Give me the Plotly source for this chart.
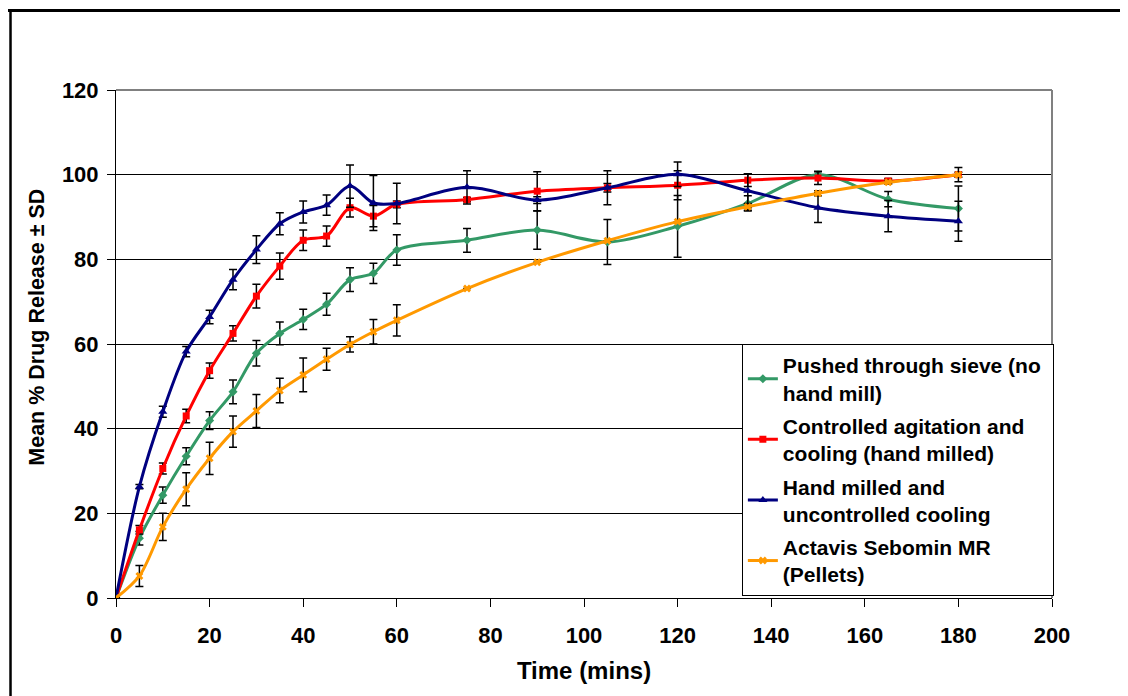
import plotly.graph_objects as go

# ---- data ----
time = [0, 5, 10, 15, 20, 25, 30, 35, 40, 45, 50, 55, 60, 75, 90, 105, 120, 135, 150, 165, 180]

sieve = [0, 14.1, 24.3, 33.5, 41.9, 48.7, 57.8, 62.5, 65.8, 69.4, 75.2, 76.7, 82.2, 84.5, 86.9, 84.1, 87.8, 93.2, 100.0, 94.2, 92.0]
sieve_sd = [0, 1.6, 1.9, 2.0, 2.1, 2.8, 3.0, 2.7, 2.4, 2.6, 2.8, 2.4, 3.6, 2.8, 4.5, 5.3, 7.3, 1.8, 0.8, 1.8, 5.3]

controlled = [0, 16.1, 30.6, 43.0, 53.7, 62.5, 71.3, 78.4, 84.5, 85.5, 92.2, 90.2, 93.0, 94.1, 96.1, 96.9, 97.5, 98.7, 99.2, 98.5, 100.0]
controlled_sd = [0, 1.0, 1.3, 1.6, 1.8, 1.8, 2.8, 3.1, 2.4, 2.4, 2.2, 2.5, 0.8, 0.5, 4.6, 1.0, 3.4, 1.5, 1.5, 0.6, 0.6]

handmilled = [0, 26.3, 44.0, 58.2, 66.4, 75.2, 82.3, 88.4, 91.2, 92.8, 97.3, 93.3, 93.2, 97.0, 94.0, 96.9, 100.1, 96.2, 92.2, 90.2, 89.0]
handmilled_sd = [0, 0.5, 1.3, 1.2, 1.6, 2.4, 3.3, 2.6, 2.6, 2.4, 5.0, 6.5, 4.8, 3.9, 0.8, 4.0, 2.9, 4.0, 3.5, 3.7, 4.7]

actavis = [0, 5.2, 16.8, 25.7, 33.0, 39.3, 44.2, 49.0, 52.7, 56.4, 59.9, 62.9, 65.6, 73.1, 79.3, 84.4, 88.9, 92.4, 95.6, 98.2, 100.0]
actavis_sd = [0, 2.5, 3.2, 3.9, 3.8, 3.7, 3.9, 2.9, 4.0, 2.6, 1.8, 2.9, 3.7, 0, 0, 0, 0, 0.8, 0.6, 0.4, 1.7]

NB = "\u00a0"
names = [
    "Pushed through sieve (no<br>hand mill)",
    "Controlled agitation and" + NB * 4 + "<br>cooling (hand milled)",
    "Hand milled and<br>uncontrolled cooling",
    "Actavis Sebomin MR<br>(Pellets)",
]
x_ticks = [0, 20, 40, 60, 80, 100, 120, 140, 160, 180, 200]
y_ticks = [0, 20, 40, 60, 80, 100, 120]
x_title = "Time (mins)"
y_title = "Mean % Drug Release ± SD"

FONT = "Arial, Liberation Sans, sans-serif"

series = [
    (sieve, sieve_sd, "#339966", "diamond", 7),
    (controlled, controlled_sd, "#FF0000", "square", 7),
    (handmilled, handmilled_sd, "#000080", "triangle-up", 8),
    (actavis, actavis_sd, "#FF9900", "x", 7),
]

fig = go.Figure()
for i, (vals, sd, color, sym, size) in enumerate(series):
    fig.add_trace(go.Scatter(
        x=time, y=vals, name=names[i], mode="lines+markers",
        legendgroup=f"g{i}",
        line=dict(color=color, width=3, shape="spline", smoothing=0.9),
        marker=dict(color=color, symbol=sym, size=size),
        error_y=dict(type="data", array=sd, visible=True, color="black",
                     thickness=1.5, width=4),
    ))

# The page body has an 8px margin; figure is sized so it ends at the window edge.
fig.update_layout(
    width=1120, height=688,
    margin=dict(l=108, r=76, t=82, b=98),
    paper_bgcolor="white", plot_bgcolor="white",
    font=dict(family=FONT, color="black", size=20, weight="bold"),
    showlegend=True,
    legend=dict(
        x=1.002, xanchor="right", y=0.004, yanchor="bottom",
        bgcolor="white", bordercolor="black", borderwidth=1,
        font=dict(family=FONT, size=21, color="black", weight="bold"),
        tracegroupgap=3, itemwidth=30,
    ),
    xaxis=dict(
        range=[0, 200], tickvals=x_ticks, ticktext=[str(v) for v in x_ticks],
        showgrid=False, zeroline=False, showline=True, linecolor="black", linewidth=1,
        ticks="outside", ticklen=8, tickcolor="black",
        tickfont=dict(family=FONT, size=22, color="black", weight="bold"),
        ticklabelstandoff=10,
        title=dict(text=x_title, standoff=14,
                   font=dict(family=FONT, size=24, color="black", weight="bold")),
    ),
    yaxis=dict(
        range=[0, 120], tickvals=y_ticks, ticktext=[str(v) for v in y_ticks],
        showgrid=True, gridcolor="black", gridwidth=1,
        zeroline=False, showline=True, linecolor="black", linewidth=1,
        ticks="outside", ticklen=8, tickcolor="black",
        tickfont=dict(family=FONT, size=22, color="black", weight="bold"),
        ticklabelstandoff=4,
    ),
    annotations=[
        dict(text=y_title, textangle=-90, xref="paper", yref="paper",
             x=-0.0839, y=0.533, xanchor="center", yanchor="middle", showarrow=False,
             font=dict(family=FONT, size=21.5, color="black", weight="bold")),
    ],
    shapes=[
        # gray plot-area border (top and right)
        dict(type="line", xref="paper", yref="paper", x0=0, x1=1, y0=1, y1=1,
             line=dict(color="#808080", width=2), layer="above"),
        dict(type="line", xref="paper", yref="paper", x0=1, x1=1, y0=0, y1=1,
             line=dict(color="#808080", width=2), layer="above"),
        # outer frame lines (top and left)
        dict(type="line", xref="paper", yref="paper", x0=-0.1186, x1=1.09, y0=1.1565, y1=1.1565,
             line=dict(color="black", width=3)),
        dict(type="line", xref="paper", yref="paper", x0=-0.1127, x1=-0.1127, y0=1.1565, y1=-0.2,
             line=dict(color="black", width=2.5)),
    ],
)

fig.write_html("out.html")
